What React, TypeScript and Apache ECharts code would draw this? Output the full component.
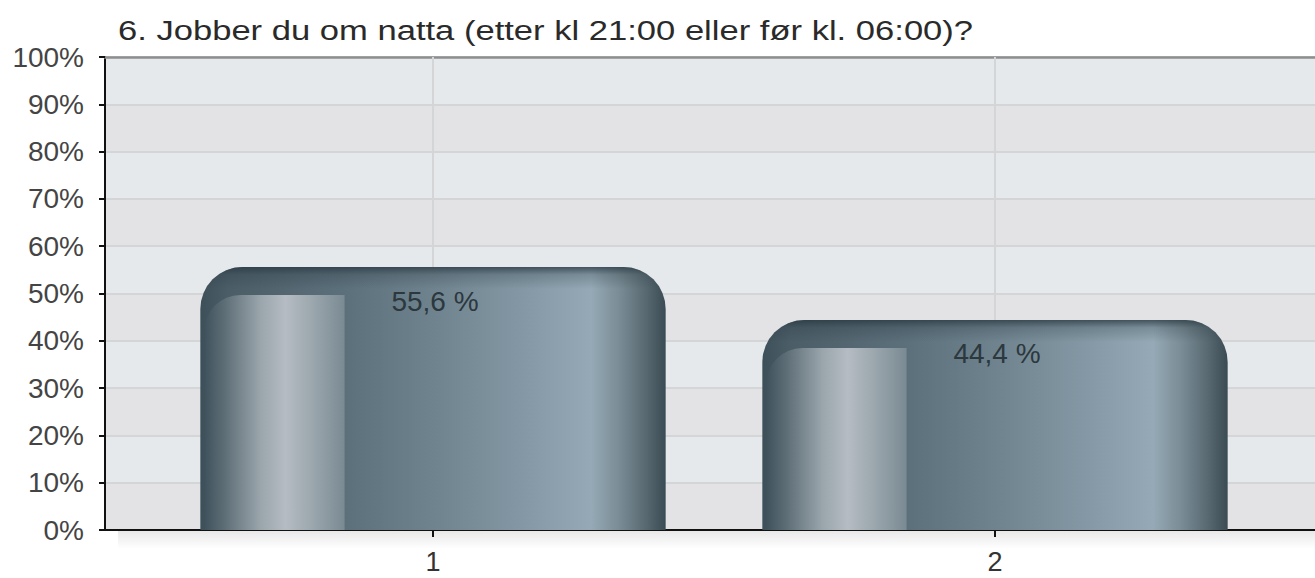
import React, { useEffect, useRef } from "react";
import * as echarts from "echarts";

const titleText = "6. Jobber du om natta (etter kl 21:00 eller før kl. 06:00)?";
const categories = ["1", "2"];
const percentValues = [55.6, 44.4];
const yTickLabels = ["0%", "10%", "20%", "30%", "40%", "50%", "60%", "70%", "80%", "90%", "100%"];

const FONT = "'Liberation Sans', Arial, Helvetica, sans-serif";

export default function App() {
  const ref = useRef<HTMLDivElement>(null);
  useEffect(() => {
    if (!ref.current) return;
    const chart = echarts.init(ref.current, undefined, { renderer: "svg" });
    const catPos = categories.map((_, i) => i + 1);
    const option: any = {
      animation: false,
      backgroundColor: "#ffffff",
      textStyle: { fontFamily: FONT },
      grid: { left: 105, right: 0, top: 57, bottom: 48, containLabel: false },
      graphic: [
        {
          type: "text",
          x: 118,
          y: 17,
          scaleX: 1.235,
          style: {
            text: titleText,
            fontSize: 28,
            fontFamily: FONT,
            fill: "#2a2a2a",
            textVerticalAlign: "top",
          },
        },
        {
          type: "rect",
          z: -1,
          shape: { x: 118, y: 531, width: 1197, height: 18 },
          style: {
            fill: new echarts.graphic.LinearGradient(0, 0, 0, 1, [
              { offset: 0, color: "rgba(0,0,0,0.09)" },
              { offset: 1, color: "rgba(0,0,0,0)" },
            ]),
          },
        },
      ],
      xAxis: [
        {
          type: "value",
          min: 1 - 328 / 562,
          max: 1 - 328 / 562 + 1210 / 562,
          axisLine: { show: true, onZero: false, lineStyle: { color: "#111", width: 2 } },
          axisTick: { show: true, length: 7, customValues: catPos, lineStyle: { color: "#111", width: 2 } },
          axisLabel: {
            show: true,
            customValues: catPos,
            margin: 18,
            fontSize: 27,
            color: "#333",
            fontFamily: FONT,
            formatter: (v: number) => categories[Math.round(v) - 1] ?? "",
          },
          splitLine: { show: false },
        },
        {
          type: "value",
          position: "top",
          min: 1 - 328 / 562,
          max: 1 - 328 / 562 + 1210 / 562,
          axisLine: { show: true, onZero: false, lineStyle: { color: "#8e8e8e", width: 2.5 } },
          axisTick: { show: false },
          axisLabel: { show: false },
          splitLine: { show: false },
        },
      ],
      yAxis: {
        type: "value",
        min: 0,
        max: 100,
        interval: 10,
        axisLine: { show: true, lineStyle: { color: "#111", width: 2 } },
        axisTick: { show: true, length: 6, lineStyle: { color: "#111", width: 2 } },
        axisLabel: {
          margin: 21,
          fontSize: 28,
          color: "#444",
          fontFamily: FONT,
          formatter: (v: number) => yTickLabels[Math.round(v / 10)] ?? "",
        },
        splitLine: { show: true, lineStyle: { color: "#d4d5d7", width: 2 } },
        splitArea: { show: true, areaStyle: { color: ["#e3e3e5", "#e6e9ec"] } },
      },
      series: [
        {
          type: "line",
          data: [],
          z: 1,
          silent: true,
          markLine: {
            z: 1,
            silent: true,
            symbol: "none",
            label: { show: false },
            lineStyle: { color: "#d4d5d7", width: 2, type: "solid" },
            data: catPos.map((p) => ({ xAxis: p })),
          },
        },
        {
          type: "custom",
          z: 3,
          data: percentValues.map((v, i) => [i + 1, v]),
          encode: { x: 0, y: 1 },
          renderItem: (params: any, api: any) => {
            const xv = api.value(0);
            const yv = api.value(1);
            const top = api.coord([xv, yv]);
            const base = api.coord([xv, 0]);
            const bw = api.size([1, 0])[0] * 0.828;
            const x0 = top[0] - bw / 2;
            const h = base[1] - top[1];
            const r = 42;
            const hlOff = 28;
            const topOff = Math.min(1, 22 / h);
            return {
              type: "group",
              children: [
                {
                  type: "rect",
                  shape: { x: x0, y: top[1], width: bw, height: h, r: [r, r, 0, 0] },
                  style: {
                    fill: new echarts.graphic.LinearGradient(0, 0, 1, 0, [
                      { offset: 0, color: "#3d4f59" },
                      { offset: 0.06, color: "#4b5d67" },
                      { offset: 0.31, color: "#5c707b" },
                      { offset: 0.5, color: "#6f838e" },
                      { offset: 0.69, color: "#8398a4" },
                      { offset: 0.84, color: "#95aab6" },
                      { offset: 0.9, color: "#7a8c95" },
                      { offset: 0.96, color: "#566770" },
                      { offset: 1, color: "#3b4b54" },
                    ]),
                  },
                },
                {
                  type: "rect",
                  shape: { x: x0, y: top[1], width: bw, height: h, r: [r, r, 0, 0] },
                  style: {
                    fill: new echarts.graphic.LinearGradient(0, 0, 0, 1, [
                      { offset: 0, color: "rgba(40,55,64,0.75)" },
                      { offset: topOff * 0.35, color: "rgba(40,55,64,0.25)" },
                      { offset: topOff, color: "rgba(40,55,64,0)" },
                      { offset: 1, color: "rgba(40,55,64,0)" },
                    ]),
                  },
                },
                {
                  type: "rect",
                  shape: {
                    x: x0 + 4,
                    y: top[1] + hlOff,
                    width: bw * 0.31 - 4,
                    height: h - hlOff,
                    r: [36, 0, 0, 0],
                  },
                  style: {
                    fill: new echarts.graphic.LinearGradient(0, 0, 1, 0, [
                      { offset: 0, color: "#3f525c" },
                      { offset: 0.15, color: "#5f6f78" },
                      { offset: 0.4, color: "#9aa5ac" },
                      { offset: 0.58, color: "#b6bcc3" },
                      { offset: 0.8, color: "#97a3aa" },
                      { offset: 1, color: "#7a8a93" },
                    ]),
                  },
                },
                {
                  type: "text",
                  style: {
                    text: yv.toFixed(1).replace(".", ",") + " %",
                    x: top[0] + 2,
                    y: top[1] + 34,
                    align: "center",
                    verticalAlign: "middle",
                    fontSize: 28,
                    fontFamily: FONT,
                    fill: "#2c383e",
                  },
                },
              ],
            };
          },
        },
      ],
    };
    chart.setOption(option);
    return () => chart.dispose();
  }, []);
  return (
    <div
      ref={ref}
      style={{ position: "fixed", left: 0, top: 0, width: 1315, height: 578 }}
    />
  );
}
